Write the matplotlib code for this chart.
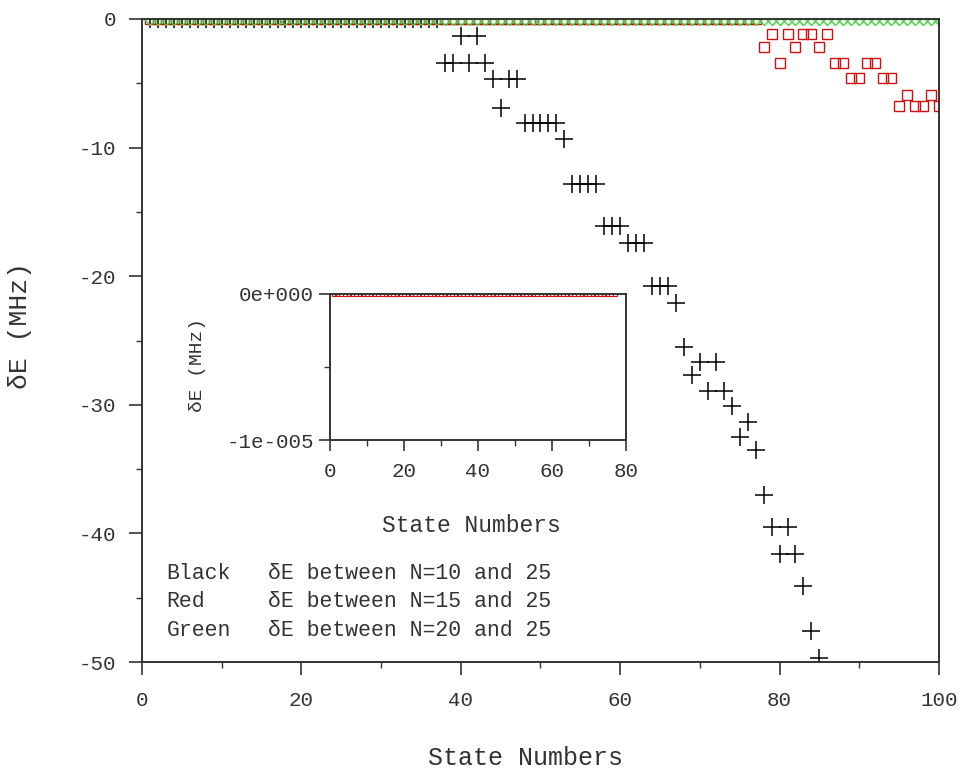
import numpy as np
import matplotlib.pyplot as plt

#### Data ####

# Black: dE between N=10 and 25
black_states = list(range(1, 38)) + [38, 39, 40, 41, 42, 43, 44, 45, 46, 47,
    48, 49, 50, 51, 52, 53, 54, 55, 56, 57, 58, 59, 60, 61, 62, 63, 64, 65, 66,
    67, 68, 69, 70, 71, 72, 73, 74, 75, 76, 77, 78, 79, 80, 81, 82, 83, 84, 85]
black_de = [0.0] * 37 + [-3.4, -3.4, -1.3, -3.4, -1.3, -3.4, -4.7, -6.9, -4.7, -4.7,
    -8.1, -8.1, -8.1, -8.1, -8.1, -9.3, -12.8, -12.8, -12.8, -12.8, -16.1, -16.1, -16.1, -17.4, -17.4, -17.4, -20.8, -20.8, -20.8,
    -22.1, -25.5, -27.7, -26.7, -28.9, -26.7, -28.9, -30.1, -32.5, -31.3, -33.5, -37.0, -39.5, -41.6, -39.5, -41.6, -44.1, -47.6, -49.7]

# Red: dE between N=15 and 25
red_states = list(range(1, 101))
red_de = [0.0] * 77 + [-2.2, -1.2, -3.4, -1.2, -2.2, -1.2, -1.2, -2.2, -1.2,
    -3.4, -3.4, -4.6, -4.6, -3.4, -3.4, -4.6, -4.6, -6.8, -5.9, -6.8, -6.8, -5.9, -6.8]

# Green: dE between N=20 and 25
green_states = list(range(1, 101))
green_de = [0.0] * 100

legend_lines = [("Black", "δE between N=10 and 25"),
                ("Red", "δE between N=15 and 25"),
                ("Green", "δE between N=20 and 25")]

#### Style ####
plt.rcParams['font.family'] = ['Liberation Mono', 'DejaVu Sans Mono']
plt.rcParams['axes.unicode_minus'] = False
plt.rcParams['axes.edgecolor'] = '#333333'
plt.rcParams['axes.labelcolor'] = '#333333'
plt.rcParams['xtick.color'] = '#333333'
plt.rcParams['ytick.color'] = '#333333'
plt.rcParams['text.color'] = '#333333'

fig = plt.figure(figsize=(9.63, 7.69), dpi=100)

#### Main axes ####
ax = fig.add_axes([0.1475, 0.1391, 0.8275, 0.8362])
ax.plot(black_states, black_de, linestyle='none', marker='+', markersize=13,
        markeredgewidth=1.1, color='black')
ax.plot(red_states, red_de, linestyle='none', marker='s', markersize=6.5,
        markerfacecolor='none', markeredgewidth=1.0, color='#d01010')
ax.plot(green_states, green_de, linestyle='none', marker='D', markersize=6.5,
        markerfacecolor='none', markeredgewidth=1.0, color='#44d044')

ax.set_xlim(0, 100)
ax.set_ylim(-50, 0)
ax.set_xticks([0, 20, 40, 60, 80, 100])
ax.set_xticks([10, 30, 50, 70, 90], minor=True)
ax.set_yticks([0, -10, -20, -30, -40, -50])
ax.set_yticks([-5, -15, -25, -35, -45], minor=True)
ax.tick_params(which='major', direction='out', length=9.5, width=1.2, labelsize=15)
ax.tick_params(which='minor', direction='out', length=4.5, width=1.0)
ax.tick_params(axis='x', which='major', pad=11)
ax.tick_params(axis='y', which='major', pad=9)
for sp in ax.spines.values():
    sp.set_linewidth(1.4)
ax.set_xlabel('State Numbers', fontsize=18, va='center')
ax.set_ylabel('δE (MHz)', fontsize=19, va='center')
ax.xaxis.set_label_coords(0.481, -0.149)
ax.yaxis.set_label_coords(-0.153, 0.523)

for i, (name, desc) in enumerate(legend_lines):
    ax.text(0.031, 0.138 - i * 0.0443, name, transform=ax.transAxes,
            fontsize=15.5, va='center', ha='left')
    ax.text(0.158, 0.138 - i * 0.0443, desc, transform=ax.transAxes,
            fontsize=15.5, va='center', ha='left')

#### Inset ####
ins = fig.add_axes([0.3427, 0.4278, 0.3073, 0.1899])
ins.plot(red_states[:77], red_de[:77], linestyle='none', marker='s', markersize=3,
         markerfacecolor='none', markeredgewidth=0.8, color='#d01010')
ins.set_xlim(0, 80)
ins.set_ylim(-1e-5, 0)
ins.set_xticks([0, 20, 40, 60, 80])
ins.set_xticks([10, 30, 50, 70], minor=True)
ins.set_yticks([0, -1e-5])
ins.set_yticklabels(['0e+000', '-1e-005'])
ins.set_yticks([-5e-6], minor=True)
ins.tick_params(which='major', direction='out', length=8, width=1.2, labelsize=15)
ins.tick_params(which='minor', direction='out', length=4, width=1.0)
ins.tick_params(axis='x', which='major', pad=8)
for sp in ins.spines.values():
    sp.set_linewidth(1.4)
ins.set_xlabel('State Numbers', fontsize=16.5, va='center')
ins.set_ylabel('δE (MHz)', fontsize=14, va='center')
ins.xaxis.set_label_coords(0.476, -0.582)
ins.yaxis.set_label_coords(-0.449, 0.514)

fig.savefig('out.png', dpi=100)
